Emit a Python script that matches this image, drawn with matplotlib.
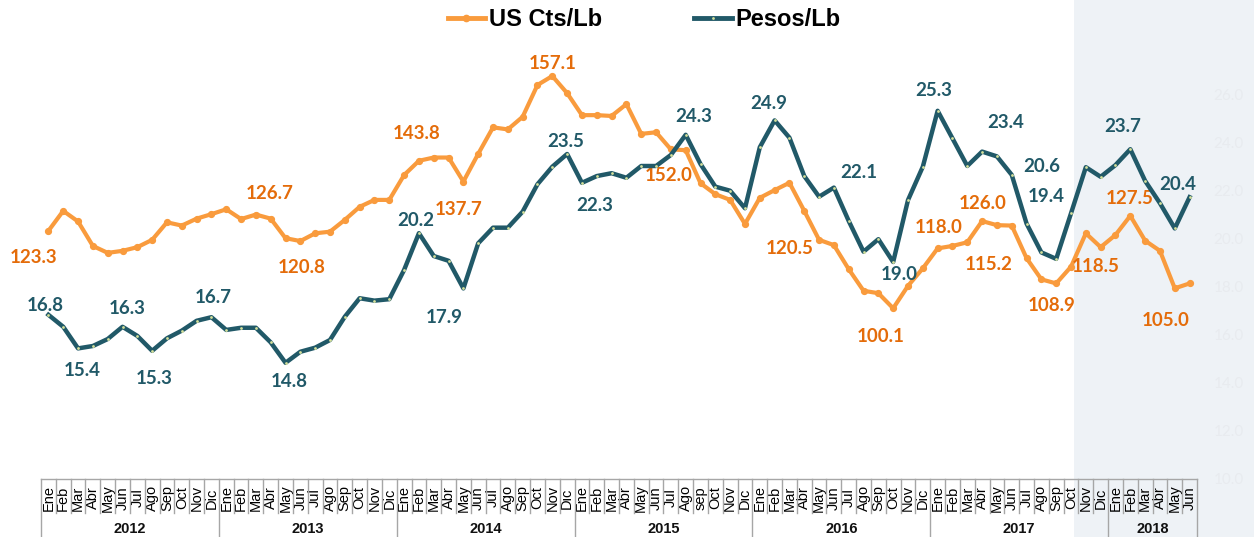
import numpy as np
import matplotlib
matplotlib.use("Agg")
import matplotlib.pyplot as plt
from matplotlib.lines import Line2D
from matplotlib.patches import Rectangle
from matplotlib.transforms import blended_transform_factory

plt.rcParams['font.family'] = ['Lato', 'DejaVu Sans']

# --- datos mensuales ene-2012 .. jun-2018 ---
months = ['Ene', 'Feb', 'Mar', 'Abr', 'May', 'Jun', 'Jul', 'Ago', 'Sep', 'Oct', 'Nov', 'Dic']
years = ['2012', '2013', '2014', '2015', '2016', '2017', '2018']
months_per_year = [12, 12, 12, 12, 12, 12, 6]

us_cts = [119.1, 124.0, 121.4, 115.4, 113.7, 114.2, 115.1, 116.9, 121.2, 120.4, 122.1, 123.2,
          124.4, 122.0, 123.1, 122.1, 117.3, 116.6, 118.5, 118.9, 121.8, 125.0, 126.7, 126.7,
          132.8, 136.3, 137.1, 137.1, 131.2, 138.0, 144.5, 144.0, 147.1, 154.9, 157.1, 152.9,
          147.5, 147.5, 147.3, 150.2, 142.9, 143.3, 139.1, 138.9, 130.8, 128.1, 126.7, 120.8,
          127.2, 129.1, 130.9, 124.0, 116.9, 115.6, 109.7, 104.4, 103.8, 100.1, 105.6, 109.9,
          114.8, 115.4, 116.3, 121.5, 120.5, 120.4, 112.4, 107.2, 106.2, 110.3, 118.5, 115.1,
          118.1, 122.8, 116.7, 114.2, 105.0, 106.2]

pesos = [16.8, 16.30, 15.4, 15.5, 15.79, 16.3, 15.92, 15.3, 15.82, 16.14, 16.55, 16.7,
         16.17, 16.26, 16.26, 15.65, 14.8, 15.26, 15.43, 15.75, 16.72, 17.49, 17.39, 17.45,
         18.67, 20.2, 19.25, 19.05, 17.9, 19.78, 20.43, 20.43, 21.10, 22.24, 22.97, 23.5,
         22.3, 22.58, 22.70, 22.51, 23.0, 23.0, 23.46, 24.3, 23.08, 22.14, 21.97, 21.24,
         23.78, 24.9, 24.18, 22.58, 21.72, 22.1, 20.71, 19.43, 19.95, 19.0, 21.58, 22.97,
         25.3, 24.15, 23.0, 23.60, 23.4, 22.63, 20.6, 19.4, 19.13, 21.03, 22.95, 22.55,
         23.04, 23.7, 22.38, 21.45, 20.4, 21.70]

# etiquetas de la serie en centavos (mes, texto)
us_label_idx = [0, 12, 17, 26, 28, 34, 42, 50, 57, 60, 63, 64, 68, 70, 73, 76]
us_label_txt = ['123.3', '126.7', '120.8', '143.8', '137.7', '157.1', '152.0', '120.5',
                '100.1', '118.0', '126.0', '115.2', '108.9', '118.5', '127.5', '105.0']
us_label_off = [(-15, 27), (43, -16), (1, 26), (-17, -24), (-5, 28), (0, -13), (-2, 26), (0, 66),
                (-13, 28), (1, -21), (1, -18), (-8, 39), (-5, 22), (10, 33), (-1, -17), (-9, 32)]

# etiquetas de la serie en pesos
pesos_label_idx = [0, 2, 5, 7, 11, 16, 25, 28, 35, 36, 43, 49, 53, 57, 60, 64, 66, 67, 73, 76]
pesos_label_off = [(-3, -9), (4, 22), (5, -18), (2, 28), (2, -20), (4, 19), (-3, -13), (-19, 29),
                   (-1, -13), (13, 23), (8, -18), (-6, -17), (25, -15), (6, 12), (-4, -20),
                   (9, -34), (15, -57), (5, -56), (-8, -23), (3, -44)]

month_labels = (months * len(years))[:len(us_cts)]
month_labels[44] = 'sep'

ORANGE = '#f99b3d'
ORANGE_TXT = '#e46c0a'
TEAL = '#215968'
GRID = '#a6a6a6'

W, H = 1254, 537
fig = plt.figure(figsize=(W / 100, H / 100), dpi=100)
fig.patch.set_facecolor('white')
fig.patches.append(Rectangle((1074 / W, 0), (W - 1074) / W, 1, transform=fig.transFigure,
                             facecolor='#eef2f6', edgecolor='none', zorder=-1))

ax = fig.add_axes([41 / W, 59 / H, 1156 / W, 480 / H])
ax.set_facecolor('none')
ax2 = ax.twinx()

x = np.arange(len(us_cts))
ax.plot(x, us_cts, color=ORANGE, lw=3.0, marker='o', ms=4.2, solid_joinstyle='round')
ax2.plot(x, pesos, color=TEAL, lw=3.2, marker='o', ms=2, mfc='#d4e09b', mec='none',
         solid_joinstyle='round')

ax.set_xlim(-0.5, len(us_cts) - 0.5)
ax.set_ylim(58.45, 176.25)
ax2.set_ylim(10, 30)

for a in (ax, ax2):
    for s in a.spines.values():
        s.set_visible(False)
ax.set_xticks([])
ax.set_yticks([])
ax2.set_yticks(np.arange(10, 27, 2))
ax2.set_yticklabels([f'{v:.1f}' for v in np.arange(10, 27, 2)])
ax2.tick_params(axis='y', length=0, pad=12, labelcolor='#e8ebef', labelsize=11)

# etiquetas de datos
for i, txt, (dx, dy) in zip(us_label_idx, us_label_txt, us_label_off):
    ax.annotate(txt, xy=(i, us_cts[i]), xytext=(dx, -dy), textcoords='offset pixels',
                ha='center', va='center', fontsize=13.5, fontweight='bold', color=ORANGE_TXT)
for i, (dx, dy) in zip(pesos_label_idx, pesos_label_off):
    ax2.annotate(f'{pesos[i]:.1f}', xy=(i, pesos[i]), xytext=(dx, -dy),
                 textcoords='offset pixels', ha='center', va='center',
                 fontsize=13.5, fontweight='bold', color=TEAL)

# tabla de meses y años bajo el eje
tr = blended_transform_factory(ax.transData, fig.transFigure)
y_top, y_mid, y_bot = 1 - 479 / H, 1 - 513 / H, 0.0
n = len(us_cts)
fig.add_artist(Line2D([-0.5, n - 0.5], [y_top, y_top], transform=tr, color=GRID, lw=1.0))
year_edges = np.concatenate([[0], np.cumsum(months_per_year)]) - 0.5
for k in range(1, n):
    if k - 0.5 not in year_edges:
        fig.add_artist(Line2D([k - 0.5, k - 0.5], [y_top, y_mid], transform=tr, color=GRID, lw=1.0))
for e in year_edges:
    fig.add_artist(Line2D([e, e], [y_top, y_bot], transform=tr, color=GRID, lw=1.0))
for k, lab in enumerate(month_labels):
    ax.text(k, 1 - 498 / H, lab, transform=tr, rotation=90, ha='center', va='center',
            fontsize=10.5, family='Liberation Sans', color='black', clip_on=False)
for yr, a, b in zip(years, year_edges[:-1], year_edges[1:]):
    ax.text((a + b) / 2, 1 - 529 / H, yr, transform=tr, ha='center', va='center',
            fontsize=10.5, fontweight='bold', family='Liberation Sans', color='#111111',
            clip_on=False)

handles = [Line2D([], [], color=ORANGE, lw=3.5, marker='o', ms=4.5),
           Line2D([], [], color=TEAL, lw=3.5, marker='o', ms=2, mfc='#d4e09b', mec='none')]
fig.legend(handles, ['US Cts/Lb', 'Pesos/Lb'], loc='center', ncol=2, frameon=False,
           bbox_to_anchor=(644 / W, 1 - 20 / H),
           prop={'family': 'Liberation Sans', 'weight': 'bold', 'size': 17},
           handlelength=1.6, handletextpad=0.15, columnspacing=3.9)

fig.savefig('out.png', dpi=100)
